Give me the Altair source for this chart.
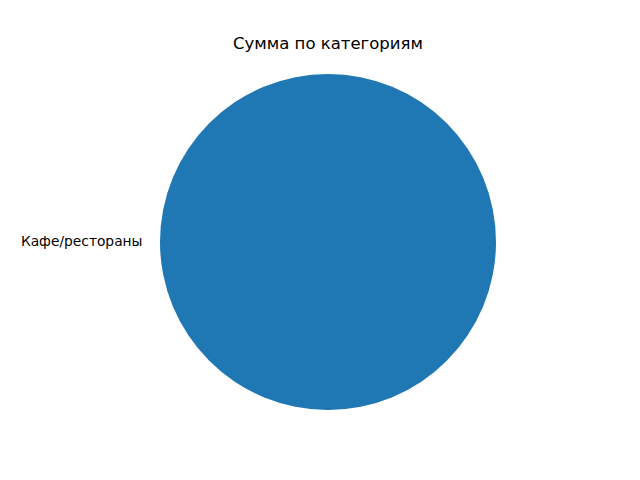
import altair as alt
import pandas as pd

categories = ["Кафе/рестораны"]
values = [1.0]
title_text = "Сумма по категориям"

df = pd.DataFrame({"category": categories, "value": values})

pie = alt.Chart(df).mark_arc(outerRadius=168, stroke=None).encode(
    theta=alt.Theta("value:Q", stack=True),
    color=alt.Color("category:N", scale=alt.Scale(range=["#1f77b4"]), legend=None),
    x=alt.value(328),
    y=alt.value(184),
)

labels = alt.Chart(df).mark_text(
    align="right", baseline="middle", font="DejaVu Sans", fontSize=13.8, color="black"
).encode(
    text="category:N",
    x=alt.value(142.5),
    y=alt.value(184),
)

chart = alt.layer(pie, labels).properties(
    width=640,
    height=422,
    padding={"top": 58, "left": 0, "right": 0, "bottom": 0},
    autosize=alt.AutoSizeParams(type="none"),
    title=alt.TitleParams(
        title_text, font="DejaVu Sans", fontSize=16.5, fontWeight="normal",
        anchor="middle", baseline="alphabetic", offset=8, color="black", dx=8, dy=15,
    ),
).configure_view(stroke=None)

chart.save("out.html", embed_options={"renderer": "svg", "actions": False})
